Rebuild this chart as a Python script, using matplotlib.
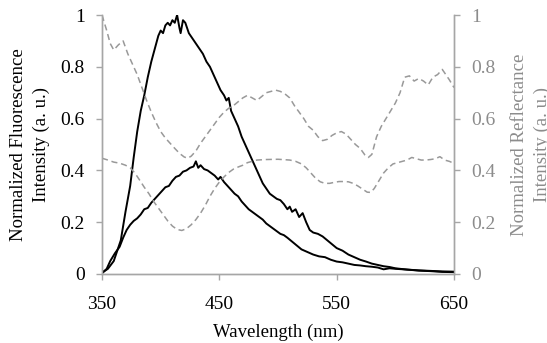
import matplotlib
matplotlib.use("Agg")
import matplotlib.pyplot as plt

# ---------------- data ----------------
fl1_wl = [350, 355, 360, 363, 366, 370, 374, 377, 380, 383, 386, 389, 392, 395, 398, 400, 402, 404, 406, 408,
          410, 412, 414, 416, 417, 419, 421, 424, 427, 430, 433, 436, 439, 442, 445, 448, 451, 454, 456, 458,
          460, 463, 466, 469, 472, 475, 478, 481, 484, 487, 490, 493, 496, 499, 502, 505, 508, 510, 512, 515,
          518, 521, 524, 527, 530, 534, 538, 542, 546, 550, 555, 560, 565, 570, 575, 580, 585, 590, 595, 600,
          610, 620, 630, 640, 650]
fl1_val = [0.005, 0.02, 0.05, 0.09, 0.13, 0.24, 0.34, 0.45, 0.55, 0.63, 0.69, 0.76, 0.82, 0.87, 0.92, 0.94, 0.93, 0.96, 0.97, 0.96,
           0.98, 0.97, 1.0, 0.95, 0.93, 0.98, 0.97, 0.93, 0.91, 0.89, 0.87, 0.85, 0.82, 0.80, 0.77, 0.74, 0.71, 0.69, 0.67, 0.68,
           0.63, 0.60, 0.57, 0.53, 0.50, 0.47, 0.44, 0.41, 0.38, 0.35, 0.33, 0.31, 0.30, 0.29, 0.285, 0.27, 0.25, 0.26, 0.24, 0.25,
           0.22, 0.235, 0.20, 0.17, 0.16, 0.155, 0.145, 0.13, 0.115, 0.10, 0.09, 0.075, 0.065, 0.055, 0.048, 0.04, 0.035, 0.03, 0.027, 0.022,
           0.017, 0.014, 0.012, 0.01, 0.009]

fl2_wl = [350, 354, 357, 361, 365, 368, 371, 374, 377, 380, 383, 386, 389, 392, 395, 398, 401, 404, 407, 410,
          413, 416, 419, 422, 425, 428, 430, 432, 434, 437, 440, 443, 446, 449, 451, 454, 457, 460, 463, 466,
          469, 472, 475, 478, 481, 484, 487, 490, 493, 496, 499, 502, 505, 508, 512, 516, 520, 525, 530, 535,
          540, 545, 550, 555, 560, 565, 570, 575, 580, 585, 590, 595, 600, 610, 620, 630, 640, 650]
fl2_val = [0.003, 0.02, 0.05, 0.08, 0.105, 0.14, 0.17, 0.19, 0.205, 0.215, 0.23, 0.25, 0.255, 0.275, 0.29, 0.305, 0.32, 0.335, 0.34, 0.36,
           0.375, 0.38, 0.395, 0.40, 0.41, 0.415, 0.435, 0.41, 0.42, 0.405, 0.40, 0.39, 0.38, 0.365, 0.375, 0.355, 0.34, 0.325, 0.31, 0.30,
           0.28, 0.265, 0.25, 0.24, 0.23, 0.22, 0.21, 0.195, 0.185, 0.175, 0.165, 0.155, 0.15, 0.14, 0.125, 0.11, 0.095, 0.085, 0.075, 0.068,
           0.065, 0.055, 0.048, 0.045, 0.04, 0.035, 0.033, 0.03, 0.028, 0.025, 0.018, 0.022, 0.02, 0.017, 0.013, 0.011, 0.008, 0.007]

refA_wl = [350, 354, 357, 360, 364, 368, 372, 376, 380, 384, 388, 392, 396, 400, 404, 408, 412, 416, 420, 423,
           426, 430, 434, 438, 442, 446, 450, 454, 458, 462, 466, 470, 474, 478, 482, 486, 490, 494, 498, 502,
           506, 510, 514, 518, 522, 526, 530, 534, 538, 542, 546, 550, 554, 558, 562, 566, 570, 574, 577, 580,
           584, 588, 592, 596, 600, 604, 608, 612, 616, 620, 624, 628, 632, 636, 640, 643, 646, 650]
refA_val = [1.0, 0.94, 0.89, 0.865, 0.885, 0.90, 0.85, 0.81, 0.77, 0.72, 0.67, 0.625, 0.585, 0.55, 0.525, 0.505, 0.485, 0.466, 0.452, 0.447,
            0.455, 0.475, 0.505, 0.53, 0.555, 0.58, 0.605, 0.625, 0.64, 0.65, 0.665, 0.68, 0.69, 0.68, 0.67, 0.685, 0.70, 0.705, 0.71, 0.705,
            0.695, 0.68, 0.65, 0.625, 0.60, 0.57, 0.555, 0.53, 0.515, 0.52, 0.535, 0.545, 0.55, 0.54, 0.52, 0.50, 0.485, 0.46, 0.45, 0.462,
            0.53, 0.57, 0.60, 0.63, 0.66, 0.70, 0.76, 0.765, 0.745, 0.755, 0.745, 0.73, 0.76, 0.77, 0.79, 0.77, 0.75, 0.72]

refB_wl = [350, 355, 360, 365, 370, 374, 378, 382, 386, 390, 394, 398, 402, 406, 410, 414, 418, 422, 426, 430,
           434, 438, 442, 446, 450, 454, 458, 462, 466, 470, 474, 478, 482, 490, 500, 510, 515, 520, 524, 528,
           532, 536, 540, 544, 548, 552, 556, 560, 564, 568, 572, 576, 579, 582, 586, 590, 594, 598, 602, 606,
           610, 614, 618, 622, 626, 630, 634, 638, 642, 646, 650]
refB_val = [0.447, 0.44, 0.432, 0.428, 0.42, 0.41, 0.39, 0.363, 0.335, 0.31, 0.28, 0.255, 0.23, 0.205, 0.185, 0.172, 0.168, 0.175, 0.19, 0.21,
            0.235, 0.265, 0.30, 0.33, 0.355, 0.375, 0.392, 0.405, 0.413, 0.42, 0.43, 0.435, 0.44, 0.442, 0.443, 0.44, 0.435, 0.425, 0.41, 0.39,
            0.37, 0.356, 0.35, 0.35, 0.354, 0.357, 0.357, 0.356, 0.35, 0.34, 0.328, 0.316, 0.315, 0.33, 0.36, 0.39, 0.41, 0.425, 0.43, 0.435,
            0.44, 0.45, 0.445, 0.44, 0.44, 0.442, 0.445, 0.453, 0.44, 0.435, 0.427]

x_ticks = [350, 450, 550, 650]
y_ticks = [0, 0.2, 0.4, 0.6, 0.8, 1.0]
y_ticklabels = ["0", "0.2", "0.4", "0.6", "0.8", "1"]

# ---------------- style ----------------
plt.rcParams['font.family'] = ['Liberation Serif', 'DejaVu Serif']
spine_c = '#a6a6a6'
gray_txt = '#8c8c8c'
dash_c = '#999999'
tick_fs = 14
label_fs = 13.5

fig = plt.figure(figsize=(5.47, 3.43), dpi=100)
ax = fig.add_axes([0.1865, 0.2012, 0.6435, 0.755])
ax2 = ax.twinx()

ax.plot(fl1_wl, fl1_val, color='black', lw=1.4, zorder=3)
ax.plot(fl2_wl, fl2_val, color='black', lw=1.4, zorder=3)
ax2.plot(refA_wl, refA_val, color=dash_c, lw=1.1, dashes=(4, 2.5))
ax2.plot(refB_wl, refB_val, color=dash_c, lw=1.1, dashes=(4, 2.5))

for a in (ax, ax2):
    a.set_xlim(350, 650)
    a.set_ylim(0, 1)
    a.set_yticks(y_ticks)
    a.set_yticklabels(y_ticklabels)
    a.spines['top'].set_visible(False)
    for s in ('left', 'right', 'bottom'):
        a.spines[s].set_color(spine_c)
        a.spines[s].set_linewidth(1.0)

ax.set_xticks(x_ticks)
ax.set_xticklabels([str(v) for v in x_ticks])
ax.tick_params(axis='x', direction='out', length=4.5, width=1.0, color=spine_c, pad=11, labelsize=tick_fs)
ax.tick_params(axis='y', direction='out', length=4.5, width=1.0, color=spine_c, pad=8, labelsize=tick_fs, labelcolor='black')
ax2.tick_params(axis='y', direction='out', length=4.5, width=1.0, color=spine_c, pad=8, labelsize=tick_fs, labelcolor=gray_txt)

ax.set_xlabel('Wavelength (nm)', fontsize=label_fs, labelpad=8)
fig.text(30 / 547, 1 - 144.5 / 343, 'Normalized Fluorescence\nIntensity (a. u.)', fontsize=label_fs,
         rotation=90, ha='center', va='center', multialignment='center', linespacing=1.45)
fig.text(531 / 547, 1 - 144.5 / 343, 'Normalized Reflectance\nIntensity (a. u.)', fontsize=label_fs,
         rotation=90, ha='center', va='center', multialignment='center', linespacing=1.45, color=gray_txt)

fig.savefig('out.png', dpi=100)
